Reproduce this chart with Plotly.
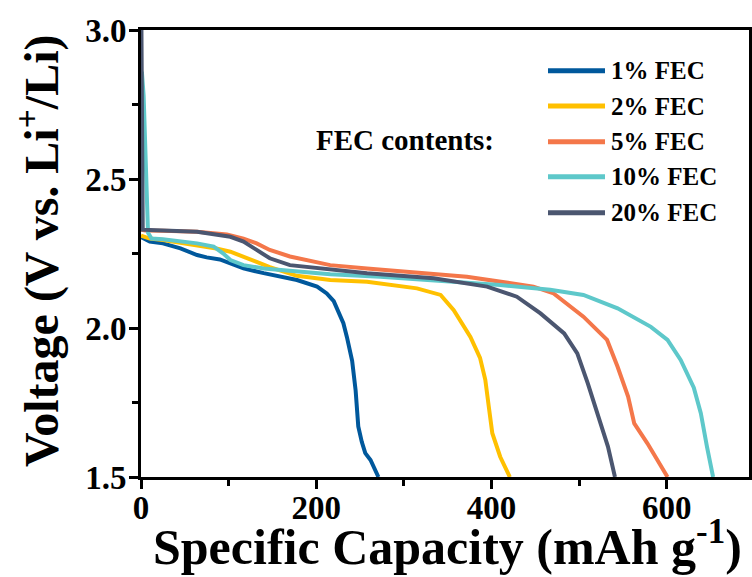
import plotly.graph_objects as go

# ---- data ----
series_names = ["1% FEC", "2% FEC", "5% FEC", "10% FEC", "20% FEC"]
series_colors = ["#00589C", "#FFC000", "#F4774A", "#5EC8CA", "#4B5670"]

cap_1 = [0, 10, 25, 45, 64, 75, 90, 102, 117, 140, 159, 178, 201, 212, 220, 227, 231, 235, 241, 245, 248, 252, 256, 262, 268, 271]
v_1 = [2.305, 2.29, 2.284, 2.267, 2.245, 2.237, 2.23, 2.217, 2.20, 2.184, 2.172, 2.161, 2.139, 2.116, 2.09, 2.044, 2.016, 1.97, 1.89, 1.79, 1.67, 1.618, 1.58, 1.557, 1.515, 1.50]

cap_2 = [0, 10, 25, 64, 86, 102, 117, 132, 147, 178, 216, 258, 315, 342, 357, 376, 387, 393, 397, 401, 410, 421]
v_2 = [2.31, 2.30, 2.295, 2.279, 2.267, 2.256, 2.24, 2.222, 2.204, 2.175, 2.161, 2.155, 2.133, 2.111, 2.06, 1.97, 1.90, 1.826, 1.736, 1.647, 1.568, 1.50]

cap_5 = [0, 5, 25, 64, 98, 117, 132, 147, 170, 216, 258, 320, 372, 448, 471, 505, 532, 544, 556, 563, 578, 601]
v_5 = [2.33, 2.327, 2.326, 2.323, 2.314, 2.30, 2.284, 2.262, 2.24, 2.211, 2.20, 2.185, 2.172, 2.139, 2.116, 2.038, 1.96, 1.87, 1.77, 1.68, 1.613, 1.50]

cap_10 = [1, 3, 8, 12, 25, 64, 83, 94, 102, 117, 140, 178, 216, 273, 296, 350, 410, 467, 505, 544, 582, 601, 616, 631, 639, 646, 653]
v_10 = [2.86, 2.78, 2.32, 2.30, 2.298, 2.284, 2.273, 2.25, 2.228, 2.211, 2.20, 2.189, 2.18, 2.172, 2.167, 2.155, 2.144, 2.128, 2.111, 2.066, 2.004, 1.96, 1.893, 1.80, 1.714, 1.602, 1.50]

cap_20 = [0.5, 1.0, 2, 10, 25, 64, 102, 117, 132, 147, 170, 216, 258, 334, 395, 429, 456, 483, 498, 510, 523, 533, 541]
v_20 = [3.0, 2.7, 2.33, 2.329, 2.328, 2.323, 2.306, 2.29, 2.262, 2.234, 2.211, 2.197, 2.184, 2.167, 2.139, 2.105, 2.049, 1.982, 1.915, 1.814, 1.691, 1.602, 1.50]

caps = [cap_1, cap_2, cap_5, cap_10, cap_20]
volts = [v_1, v_2, v_5, v_10, v_20]

x_ticks = [0, 200, 400, 600]
y_ticks = [1.5, 2.0, 2.5, 3.0]
x_tick_labels = ["0", "200", "400", "600"]
y_tick_labels = ["1.5", "2.0", "2.5", "3.0"]
x_title = "Specific Capacity (mAh g<sup>-1</sup>)"
y_title = "Voltage (V vs. Li<sup>+</sup>/Li)"

FONT = "Times New Roman, Liberation Serif, serif"
W, H = 752, 577
ML, MR, MT, MB = 141, 3, 30, 100

fig = go.Figure()
for name, color, x, y in zip(series_names, series_colors, caps, volts):
    fig.add_trace(go.Scatter(x=x, y=y, mode="lines", name=name,
                             line=dict(color=color, width=4), showlegend=False))


def px_x(p):
    return (p - ML) / (W - ML - MR)


def px_y(p):
    return (H - MB - p) / (H - MT - MB)


# manual legend (lines + labels)
leg_y = [70.7, 106, 141.7, 176.7, 212.7]
for name, color, yy in zip(series_names, series_colors, leg_y):
    fig.add_shape(type="line", xref="paper", yref="paper",
                  x0=px_x(548), x1=px_x(605), y0=px_y(yy), y1=px_y(yy),
                  line=dict(color=color, width=5))
    fig.add_annotation(xref="paper", yref="paper", x=px_x(609), y=px_y(yy),
                       text=name, showarrow=False, xanchor="left", yanchor="middle",
                       font=dict(family=FONT, size=25, color="black", weight="bold"))

fig.add_annotation(xref="paper", yref="paper", x=px_x(314), y=px_y(140),
                   text="FEC contents:", showarrow=False, xanchor="left", yanchor="middle",
                   font=dict(family=FONT, size=29, color="black", weight="bold"))

# axis titles placed as annotations for exact positioning
fig.add_annotation(xref="paper", yref="paper", x=px_x(447), y=px_y(577),
                   text=x_title, showarrow=False, xanchor="center", yanchor="bottom",
                   font=dict(family=FONT, size=50, color="black", weight="bold"))
fig.add_annotation(xref="paper", yref="paper", x=px_x(38), y=px_y(251),
                   text=y_title, showarrow=False, xanchor="center", yanchor="middle",
                   textangle=-90,
                   font=dict(family=FONT, size=48, color="black", weight="bold"))

axis_common = dict(showline=True, linecolor="black", linewidth=3, mirror=True,
                   ticks="outside", ticklen=9, tickwidth=3, tickcolor="black",
                   showgrid=False, zeroline=False,
                   tickfont=dict(family=FONT, size=33, color="black", weight="bold"))

fig.update_xaxes(range=[0, 694], tickvals=x_ticks, ticktext=x_tick_labels,
                 ticklabelstandoff=-10,
                 minor=dict(ticks="outside", ticklen=6, tickwidth=3, tickcolor="black", dtick=100, tick0=0),
                 automargin=False, **axis_common)
fig.update_yaxes(range=[1.5, 3.0], tickvals=y_ticks, ticktext=y_tick_labels,
                 ticklabelstandoff=-4,
                 minor=dict(ticks="outside", ticklen=6, tickwidth=3, tickcolor="black", dtick=0.25, tick0=1.5),
                 automargin=False, **axis_common)

fig.update_layout(width=W, height=H, margin=dict(l=ML, r=MR, t=MT, b=MB),
                  paper_bgcolor="white", plot_bgcolor="white", showlegend=False)

fig.write_html("out.html", config={"displayModeBar": False},
               post_script="document.body.style.margin='0';document.body.style.overflow='hidden';")
